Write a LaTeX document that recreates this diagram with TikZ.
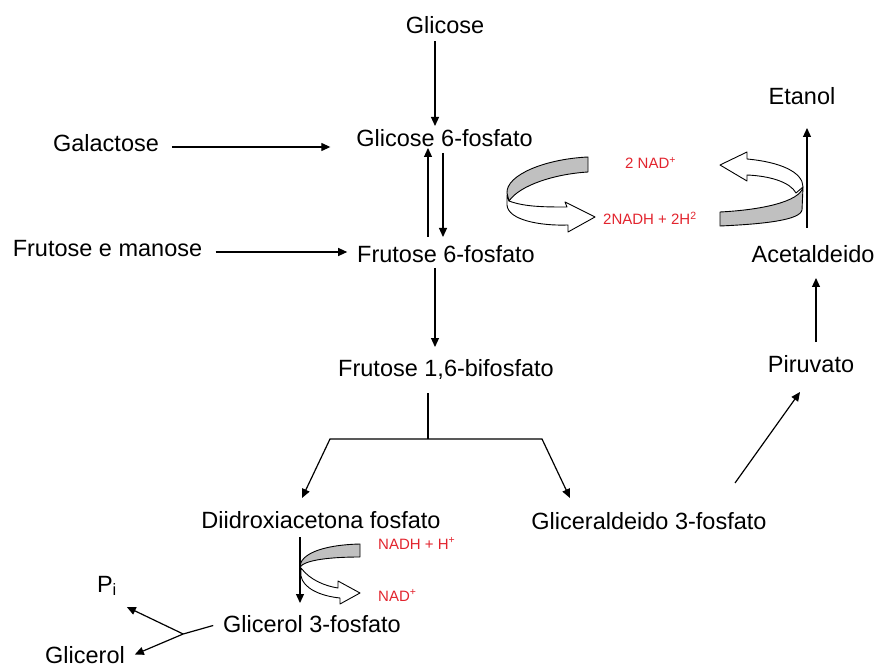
\documentclass[tikz,border=0pt]{standalone}
\usepackage{fontspec}
\setmainfont{Liberation Sans}
\usetikzlibrary{arrows.meta}
\definecolor{cofred}{RGB}{226,36,46}
\definecolor{ribbongray}{RGB}{192,192,192}
\begin{document}
\begin{tikzpicture}[x=1pt,y=-1pt,
  met/.style={inner sep=0pt, outer sep=0pt, anchor=base,
    font=\fontsize{23.5}{28}\selectfont, text height=17pt, text depth=4pt},
  cof/.style={inner sep=0pt, anchor=base west, text=cofred,
    font=\fontsize{15}{18}\selectfont},
  arr/.style={line width=1.2pt, -{Triangle[length=9pt,width=8pt]}},
  ln/.style={line width=1.2pt},
  band/.style={line width=0.9pt, draw=black, line join=round}
]
\useasboundingbox (0,0) rectangle (876,671);

% metabolites (placed on their baselines)
\node[met] (glc)  at (445,33.5) {Glicose};
\node[met] (g6p)  at (444.5,147) {Glicose 6-fosfato};
\node[met] (gal)  at (106,152) {Galactose};
\node[met] (fem)  at (107.5,257) {Frutose e manose};
\node[met] (f6p)  at (446,262) {Frutose 6-fosfato};
\node[met] (f16)  at (446,376) {Frutose 1,6-bifosfato};
\node[met] (eta)  at (802,105) {Etanol};
\node[met] (acet) at (813,262) {Acetaldeido};
\node[met] (pir)  at (811,372) {Piruvato};
\node[met] (dhap) at (321,528) {Diidroxiacetona fosfato};
\node[met] (gap)  at (649,529) {Gliceraldeido 3-fosfato};
\node[met] (g3p)  at (312,632) {Glicerol 3-fosfato};
\node[met, text depth=0pt] (gly) at (85,663) {Glicerol};
\node[met, anchor=base west] (pi) at (97,592) {P\textsubscript{i}};

% cofactors
\node[cof] (nadA)  at (625,169) {2 NAD\textsuperscript{+}};
\node[cof] (nadhA) at (603,225) {2NADH + 2H\textsuperscript{2}};
\node[cof] (nadhB) at (378,549) {NADH + H\textsuperscript{+}};
\node[cof] (nadB)  at (378,601) {NAD\textsuperscript{+}};

% main chain
\draw[arr] ([xshift=-10pt,yshift=-4pt]glc.south) -- ([xshift=-9.5pt,yshift=4pt]g6p.north);
\draw[arr] ([xshift=-18pt,yshift=8pt]f6p.north) -- ([xshift=-16.5pt,yshift=3pt]g6p.south);
\draw[arr] ([xshift=-1.5pt,yshift=-2pt]g6p.south) -- ([xshift=-3pt,yshift=8pt]f6p.north);
\draw[arr] ([xshift=-11pt,yshift=-2pt]f6p.south) -- ([xshift=-11pt,yshift=12pt]f16.north);
\draw[arr] ([xshift=13pt,yshift=-1.5pt]gal.east) -- ([xshift=-26pt,yshift=-6.5pt]g6p.west);
\draw[arr] ([xshift=13.5pt,yshift=-1.5pt]fem.east) -- ([xshift=-10pt,yshift=3.5pt]f6p.west);

% split of fructose 1,6-bisphosphate
\coordinate (brc) at ([xshift=-18pt,yshift=-59pt]f16.south);
\coordinate (brl) at ([xshift=-98pt]brc);
\coordinate (brr) at ([xshift=114pt]brc);
\draw[ln] ([xshift=-18pt,yshift=-13pt]f16.south) -- (brc);
\draw[ln, {Triangle[length=9pt,width=8pt]}-{Triangle[length=9pt,width=8pt]}]
  ([xshift=-19pt,yshift=13pt]dhap.north) -- (brl) -- (brr) -- ([xshift=-79pt,yshift=14pt]gap.north);

% towards ethanol
\draw[arr] ([xshift=86pt,yshift=29pt]gap.north) -- ([xshift=-11pt,yshift=-16pt]pir.south);
\draw[arr] ([xshift=5pt,yshift=13pt]pir.north) -- ([xshift=3pt,yshift=-12pt]acet.south);
\draw[arr] ([xshift=-6pt,yshift=17pt]acet.north) -- ([xshift=5pt,yshift=-19pt]eta.south);

% glycerol branch
\draw[arr] ([xshift=-21pt,yshift=-5pt]dhap.south) -- ([xshift=-12pt,yshift=12pt]g3p.north);
\coordinate (gj) at ([xshift=-40pt,yshift=-8.5pt]g3p.west);
\draw[ln] ([xshift=-10pt]g3p.west) -- (gj);
\draw[arr] (gj) -- ([xshift=10pt,yshift=0pt]gly.east);
\draw[arr] (gj) -- ([xshift=10pt,yshift=-11pt]pi.south east);

% NAD+/NADH ribbon, left
\draw[band, fill=white]
  (507,195) -- (509,201) .. controls (525,207) and (545,207) .. (567,207)
  -- (565,202) -- (595,217) -- (568,232) -- (568,225)
  .. controls (540,226) and (508,220) .. (507,205) -- cycle;
\draw[band, fill=ribbongray]
  (588,157) .. controls (545,159) and (506,175) .. (507,193)
  -- (509,201) .. controls (520,185) and (555,174) .. (588,172) -- cycle;

% NAD+/NADH ribbon, right
\draw[band, fill=white]
  (720,165) -- (747,152) -- (747,159)
  .. controls (780,162) and (803,172) .. (803,187)
  -- (796,193) .. controls (790,182) and (770,176) .. (747,175)
  -- (747,181) -- cycle;
\draw[band, fill=ribbongray]
  (803,187) .. controls (800,202) and (760,210) .. (720,212)
  -- (720,226) .. controls (765,224) and (800,220) .. (802,210) -- cycle;

% NADH/NAD+ ribbon, glycerol branch
\draw[band, fill=white]
  (301,568) .. controls (310,580) and (325,586) .. (338,588)
  -- (338,581) -- (360,593) -- (340,604) -- (340,598)
  .. controls (320,596) and (303,588) .. (301,576) -- cycle;
\draw[band, fill=ribbongray]
  (360,544) .. controls (320,545) and (300,555) .. (300,567)
  .. controls (305,560) and (330,557) .. (360,557) -- cycle;
\end{tikzpicture}
\end{document}
